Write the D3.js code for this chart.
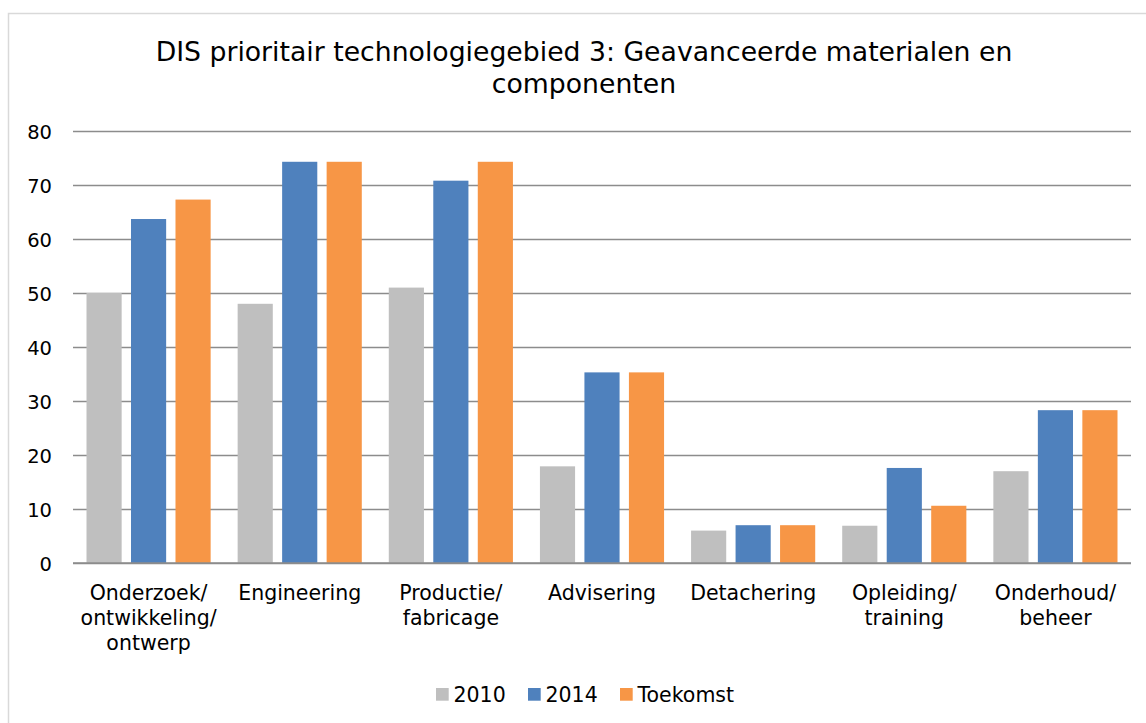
<!DOCTYPE html>
<html>
<head>
<meta charset="utf-8">
<script src="https://cdn.jsdelivr.net/npm/d3@7"></script>
<style>
  html, body { margin: 0; padding: 0; background: #fff; }
  svg { display: block; font-family: "DejaVu Sans", Verdana, sans-serif; }
</style>
</head>
<body>
<svg id="chart" width="1146" height="723"></svg>
<script>
// Chart data
const categories = [
  "Onderzoek/ontwikkeling/ontwerp",
  "Engineering",
  "Productie/fabricage",
  "Advisering",
  "Detachering",
  "Opleiding/training",
  "Onderhoud/beheer"
];
const seriesNames = ["2010", "2014", "Toekomst"];
const values2010     = [50.0, 48.0, 51.0, 17.9, 6.0, 6.9, 17.0];
const values2014     = [63.7, 74.3, 70.8, 35.3, 7.0, 17.6, 28.3];
const valuesToekomst = [67.3, 74.3, 74.3, 35.3, 7.0, 10.6, 28.3];
const yTicks = [0, 10, 20, 30, 40, 50, 60, 70, 80];
const colors = ["#BFBFBF", "#4F81BD", "#F79646"];
const title = ["DIS prioritair technologiegebied 3: Geavanceerde materialen en", "componenten"];

const FONT = "DejaVu Sans, Verdana, sans-serif";
const seriesValues = [values2010, values2014, valuesToekomst];
const rows = categories.map((c, i) => ({
  category: c,
  values: seriesNames.map((s, k) => ({ series: s, value: seriesValues[k][i] }))
}));

const svg = d3.select("#chart");
const W = 1146, H = 723;
const plot = { left: 73, right: 1131, top: 131, bottom: 563 };

// Outer chart frame
svg.append("rect")
  .attr("x", 8.5).attr("y", 13.5)
  .attr("width", W + 20).attr("height", H + 20)
  .attr("fill", "#fff")
  .attr("stroke", "#d9d9d9").attr("stroke-width", 1.5);

// Title
const titleG = svg.append("g").attr("font-size", 26.7).attr("font-family", FONT).attr("fill", "#000");
title.forEach((line, i) => {
  titleG.append("text")
    .attr("x", 584).attr("y", 61 + i * 32)
    .attr("text-anchor", "middle")
    .text(line);
});

// Scales
const x0 = d3.scaleBand().domain(categories).range([plot.left, plot.right]).padding(0);
const groupPad = 13.5;
const x1 = d3.scaleBand().domain(seriesNames)
  .range([groupPad, x0.bandwidth() - groupPad])
  .paddingInner(0.21).paddingOuter(0);
const y = d3.scaleLinear().domain([0, 80]).range([plot.bottom, plot.top]);
const color = d3.scaleOrdinal().domain(seriesNames).range(colors);

// Gridlines and value labels
const yAxis = d3.axisLeft(y).tickValues(yTicks)
  .tickSize(-(plot.right - plot.left)).tickPadding(21);
const yg = svg.append("g")
  .attr("transform", `translate(${plot.left},0)`)
  .call(yAxis)
  .attr("font-family", FONT);
yg.select(".domain").remove();
yg.selectAll(".tick line").attr("stroke", "#8c8c8c").attr("stroke-width", 1.6);
yg.selectAll(".tick text")
  .attr("font-size", 19.5)
  .attr("fill", "#000")
  .attr("dy", "0.36em");

// Bars
const groups = svg.append("g").selectAll("g")
  .data(rows).join("g")
  .attr("transform", d => `translate(${x0(d.category)},0)`);
groups.selectAll("rect")
  .data(d => d.values).join("rect")
  .attr("x", d => x1(d.series))
  .attr("width", x1.bandwidth())
  .attr("y", d => y(d.value))
  .attr("height", d => y(0) - y(d.value))
  .attr("fill", d => color(d.series));

// Baseline
svg.append("line")
  .attr("x1", plot.left).attr("x2", plot.right)
  .attr("y1", y(0)).attr("y2", y(0))
  .attr("stroke", "#8c8c8c").attr("stroke-width", 1.6);

// Category labels, wrapped after each slash
const xAxis = d3.axisBottom(x0).tickSize(0).tickFormat("");
const xg = svg.append("g").attr("transform", `translate(0,${plot.bottom})`).call(xAxis)
  .attr("font-family", FONT);
xg.select(".domain").remove();
xg.selectAll(".tick").each(function(d) {
  const lines = d.split(/(?<=\/)/);
  const t = d3.select(this).append("text")
    .attr("font-size", 20.5)
    .attr("fill", "#000")
    .attr("text-anchor", "middle");
  lines.forEach((ln, i) => {
    t.append("tspan").attr("x", 0).attr("y", 37 + i * 25).text(ln);
  });
});

// Legend
const legend = svg.append("g").attr("font-size", 20.5).attr("font-family", FONT).attr("fill", "#000");
const legendX = [436, 528, 620];
seriesNames.forEach((s, i) => {
  legend.append("rect")
    .attr("x", legendX[i]).attr("y", 688)
    .attr("width", 12.7).attr("height", 12.7)
    .attr("fill", color(s));
  legend.append("text")
    .attr("x", legendX[i] + 17.5).attr("y", 702)
    .text(s);
});
</script>
</body>
</html>
